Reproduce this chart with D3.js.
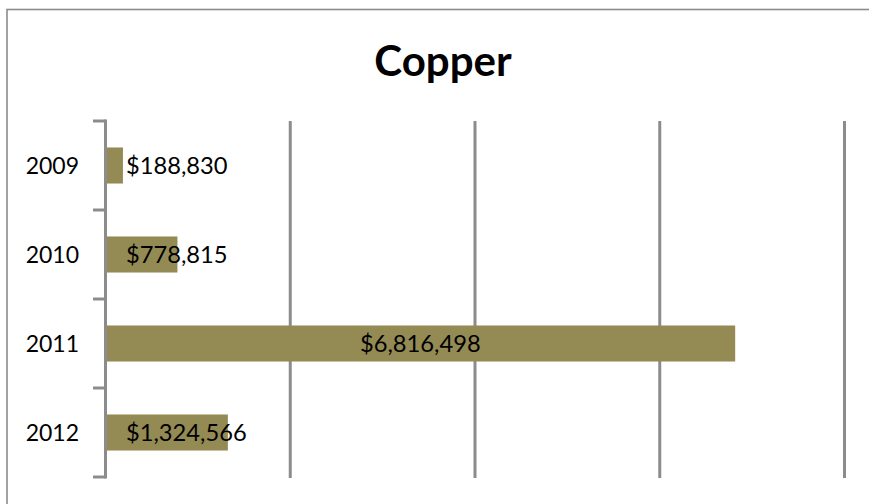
<!DOCTYPE html>
<html>
<head>
<meta charset="utf-8">
<script src="https://cdn.jsdelivr.net/npm/d3@7"></script>
<style>
  html, body { margin: 0; padding: 0; background: #ffffff; }
  svg { display: block; }
  text { font-family: Lato, "Open Sans", sans-serif; fill: #000; }
</style>
</head>
<body>
<svg id="chart" width="869" height="504"></svg>
<script>
// Annual copper values (USD)
const years = ["2009", "2010", "2011", "2012"];
const values = [188830, 778815, 6816498, 1324566];
const gridTicks = [2000000, 4000000, 6000000, 8000000];
const chartTitle = "Copper";

const svg = d3.select("#chart");

const plot = { left: 105.5, right: 844.5, top: 121, bottom: 477 };
const gray = "#8c8c8c";
const barColor = "#948a54";

// Chart frame (runs past the right and bottom edges)
svg.append("rect")
  .attr("x", 7).attr("y", 9.5)
  .attr("width", 920).attr("height", 600)
  .attr("fill", "#fff")
  .attr("stroke", gray).attr("stroke-width", 1.6);

svg.append("text")
  .attr("x", 443).attr("y", 76)
  .attr("text-anchor", "middle")
  .style("font-size", "42px").style("font-weight", "bold")
  .text(chartTitle);

const x = d3.scaleLinear().domain([0, 8000000]).range([plot.left, plot.right]);
const y = d3.scaleBand().domain(years)
  .range([plot.top, plot.bottom])
  .paddingInner(0.595).paddingOuter(0.2975);

// Vertical gridlines
svg.append("g").selectAll("line").data(gridTicks).join("line")
  .attr("x1", d => x(d)).attr("x2", d => x(d))
  .attr("y1", plot.top).attr("y2", plot.bottom + 1)
  .attr("stroke", gray).attr("stroke-width", 3);

// Bars
const rows = years.map((yr, i) => ({ year: yr, value: values[i] }));
svg.append("g").selectAll("rect").data(rows).join("rect")
  .attr("x", x(0))
  .attr("y", d => y(d.year))
  .attr("width", d => x(d.value) - x(0))
  .attr("height", y.bandwidth())
  .attr("fill", barColor);

// Category axis with outward ticks at band boundaries
const axis = svg.append("g");
axis.append("line")
  .attr("x1", x(0)).attr("x2", x(0))
  .attr("y1", plot.top - 1.5).attr("y2", plot.bottom + 1.5)
  .attr("stroke", gray).attr("stroke-width", 3);
const bounds = years.map(yr => y(yr) - y.step() * y.paddingInner() / 2)
  .concat([plot.bottom]);
axis.selectAll("line.tick").data(bounds).join("line")
  .attr("class", "tick")
  .attr("x1", 93).attr("x2", x(0))
  .attr("y1", d => d).attr("y2", d => d)
  .attr("stroke", gray).attr("stroke-width", 3);
axis.selectAll("text").data(years).join("text")
  .attr("x", 79)
  .attr("y", d => y(d) + y.bandwidth() / 2)
  .attr("dy", "0.37em")
  .attr("text-anchor", "end")
  .style("font-size", "23px")
  .text(d => d);

// Value labels: centred when they fit inside the bar, otherwise near the base
const fmt = v => "$" + d3.format(",")(v);
const labels = svg.append("g").selectAll("text").data(rows).join("text")
  .attr("y", d => y(d.year) + y.bandwidth() / 2)
  .attr("dy", "0.37em")
  .style("font-size", "23.7px")
  .text(d => fmt(d.value));
labels.each(function(d) {
  const w = this.getComputedTextLength();
  const bw = x(d.value) - x(0);
  const t = d3.select(this);
  if (w + 10 < bw) {
    t.attr("x", (x(0) + x(d.value)) / 2).attr("text-anchor", "middle");
  } else {
    t.attr("x", x(0) + 20.5).attr("text-anchor", "start");
  }
});
</script>
</body>
</html>
